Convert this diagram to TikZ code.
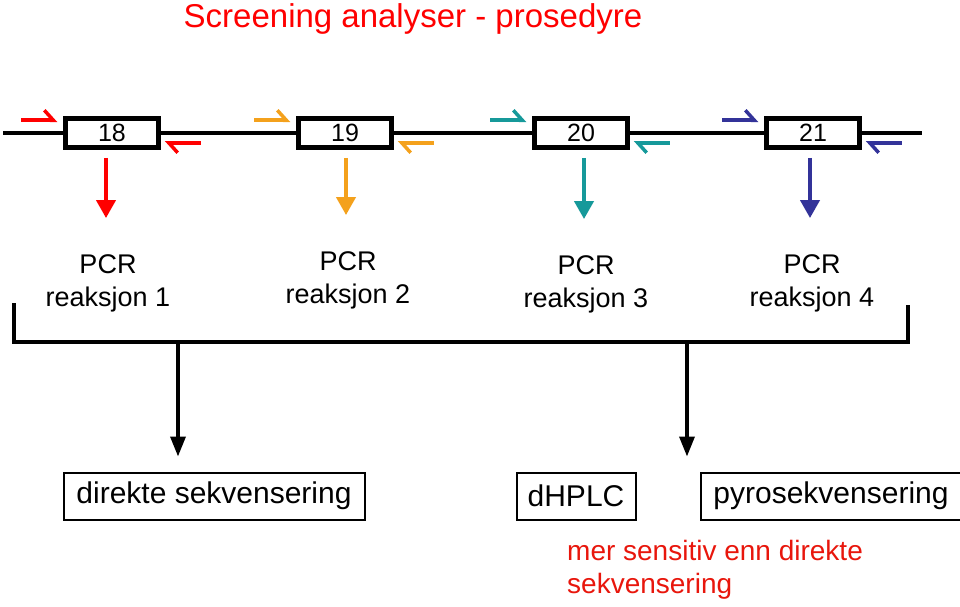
\documentclass[tikz,border=0pt]{standalone}
\usepackage{fontspec}
\setmainfont{Liberation Sans}
\usetikzlibrary{arrows.meta,positioning}
\definecolor{pcrred}{HTML}{FF0000}
\definecolor{pcrorange}{HTML}{F4A11C}
\definecolor{pcrteal}{HTML}{16999A}
\definecolor{pcrblue}{HTML}{333399}
\definecolor{notered}{HTML}{E8160C}

\begin{document}
\begin{tikzpicture}[x=1pt, y=-1pt, >=Triangle,
		exon/.style={draw, line width=4.5pt, fill=white, minimum width=93pt, minimum height=29pt, inner sep=0pt, font=\fontsize{25}{28}\selectfont},
		primer/.style={line width=3.5pt, -{Straight Barb[left, length=9pt, width=20pt]}},
		pcrarrow/.style={line width=4pt, -{Triangle[length=18pt, width=19pt]}},
		pcrlabel/.style={align=center, inner sep=0pt, font=\fontsize{27}{33}\selectfont},
		method/.style={draw, line width=2pt, minimum height=47pt, inner sep=0pt, font=\fontsize{30}{36}\selectfont},
		flow/.style={line width=3.5pt, -{Triangle[length=20pt, width=15pt]}}]
			\useasboundingbox (0,0) rectangle (960,607);
			
			% 1. 标题
			\node[text=red, inner sep=0pt, font=\fontsize{33}{40}\selectfont] (title) at (413,19) {Screening analyser - prosedyre};
			
			% 2. 基因与外显子
			\coordinate (geneL) at (3,133);
			\coordinate (geneR) at (922,133);
			\node[exon] (b18) at (112,133) {18};
			\node[exon] (b19) at (345,133) {19};
			\node[exon] (b20) at (581,133) {20};
			\node[exon] (b21) at (813,133) {21};
			\draw[line width=4pt] (geneL) -- (b18) -- (b19) -- (b20) -- (b21) -- (geneR);
			\foreach \n in {18,19,20,21} \node[exon] at (b\n) {\n};
			
			% 3. 引物 (正向 / 反向)
			\foreach \n/\c in {18/pcrred, 19/pcrorange, 20/pcrteal, 21/pcrblue} {
				\draw[primer, \c] ([xshift=-42pt, yshift=-4pt]b\n.north west) -- ++(36,0);
				\draw[primer, \c] ([xshift=40pt, yshift=7pt]b\n.south east) -- ++(-36,0);
			}
			
			% 4. PCR 反应
			\node[pcrlabel] (r1) at (108,283) {PCR\\reaksjon 1};
			\node[pcrlabel] (r2) at (348,280) {PCR\\reaksjon 2};
			\node[pcrlabel] (r3) at (586,284) {PCR\\reaksjon 3};
			\node[pcrlabel] (r4) at (812,283) {PCR\\reaksjon 4};
			\foreach \n/\c [count=\i] in {18/pcrred, 19/pcrorange, 20/pcrteal, 21/pcrblue}
				\draw[pcrarrow, \c] ([xshift=-2pt, yshift=-8pt]b\n.south -| r\i.north) -- ([xshift=-2pt, yshift=36pt]r\i.north);
			
			% 5. 汇总括号与分析方法
			\coordinate (bl) at (14,303);
			\coordinate (br) at (908,305);
			\draw[line width=4pt] (bl) -- ++(0,39) -| (br);
			\node[method, minimum width=301pt] (d1) at (214,496) {direkte sekvensering};
			\node[method, minimum width=119pt, right=150pt of d1] (d2) {dHPLC};
			\node[method, minimum width=261pt, right=63pt of d2] (d3) {pyrosekvensering};
			\coordinate (f1) at (178,342);
			\coordinate (f2) at (687,342);
			\draw[flow] (f1) -- ([yshift=15pt]d1.north -| f1);
			\draw[flow] (f2) -- ([yshift=15pt]d2.north -| f2);
			
			% 6. 备注
			\node[text=notered, align=left, anchor=north west, inner sep=0pt, font=\fontsize{28}{33}\selectfont] (note) at (567,540) {mer sensitiv enn direkte\\sekvensering};
		\end{tikzpicture}
\end{document}
